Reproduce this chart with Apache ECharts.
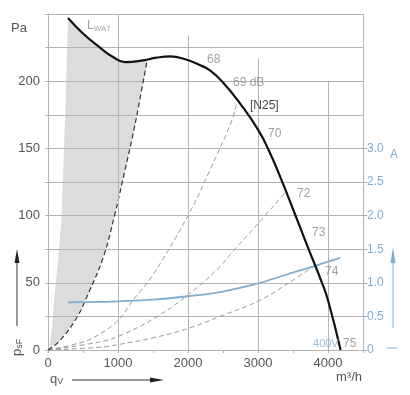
<!DOCTYPE html>
<html><head><meta charset="utf-8">
<script src="https://cdn.jsdelivr.net/npm/echarts@6/dist/echarts.min.js"></script>
<style>html,body{margin:0;padding:0;background:#fff}#c{width:410px;height:395px}</style>
</head><body><div id="c"></div>
<script>
// ---- data ----
const xTicks = [0, 1000, 2000, 3000, 4000];
const xMinorTicks = [0, 500, 1000, 1500, 2000, 2500, 3000, 3500, 4000, 4500];
const yTicks = [0, 50, 100, 150, 200];
const yMinorTicks = [0, 25, 50, 75, 100, 125, 150, 175, 200, 225, 250];
const ampTicks = [0, 0.5, 1.0, 1.5, 2.0, 2.5, 3.0];
// fan curve N25 (qV m3/h, psF Pa)
const fanCurve = [[286,247],[500,235.5],[743,225],[929,218],[1100,214.2],[1362,215.5],[1550,217.5],[1743,218.4],[1981,216],[2150,212.5],[2314,208],[2500,199],[2750,183],[3000,164],[3150,149],[3300,131],[3529,101],[3700,78],[3914,50],[4000,37],[4180,0]];
// boundary of the grey (not permitted) zone
const zoneLeft = [[20,0],[57,17],[86,37],[157,74],[195,100],[243,171],[286,247]];
const zoneDashed = [[0,0],[171,7],[410,24],[576,42],[790,69],[950,100],[1100,134],[1200,157],[1300,183],[1414,215]];
// system curves (grey dashed)
const sysA = [[0,0],[500,6],[743,12],[1000,22],[1214,37],[1500,56],[2000,100],[2314,134],[2629,171],[2690,183]];
const sysB = [[0,0],[743,6],[1000,10],[1500,23],[2000,41],[2457,62],[2600,71],[3000,94],[3386,117]];
const sysC = [[0,0],[743,2],[1000,4],[1500,9],[2000,16],[2457,25],[3029,37],[3500,52],[3843,64]];
// current (A)
const current = [[286,0.71],[700,0.715],[1000,0.725],[1500,0.75],[2000,0.80],[2500,0.87],[3000,0.99],[3400,1.12],[3843,1.26],[4170,1.37]];
// vertical grid line heights (Pa)
const gridX = [1000, 2000, 3000, 4000];
const gridTop = [250, 234, 217, 200];
// annotations
const annotText = ['68','69 dB','[N25]','70','72','73','74','75','400V','L{sub|WA7}'];
const annotQ    = [2271, 2643, 2886, 3143, 3557, 3771, 3957, 4214, 3786, 557];
const annotP    = [216, 199, 182, 161, 116.6, 87, 58, 4.5, 4.5, 241.5];
const annotKind = ['g','g','k','g','g','g','g','g','b','g'];

const GRID = '#b4b4b4', TXT = '#555', LBL = '#8a8a8a', BLUE = '#7eadd0', FONT = 'Liberation Sans';

const chart = echarts.init(document.getElementById('c'), null, {renderer:'canvas'});

// grey zone polygon from boundaries
const zoneTop = fanCurve.filter(p => p[0] <= 1414);
const zonePoly = zoneLeft.concat(zoneTop).concat(zoneDashed.slice().reverse());

const colorOf = k => k === 'k' ? '#111' : (k === 'b' ? BLUE : LBL);
const sizeOf = k => k === 'b' ? 11 : 12;

const option = {
  animation: false,
  textStyle: {fontFamily: FONT},
  grid: {left: 48, top: 14, right: 47, bottom: 45, containLabel: false},
  xAxis: {
    type: 'value', min: 0, max: 4500, interval: 500,
    axisLine: {show: true, lineStyle: {color: GRID}},
    axisTick: {show: true, length: 3, lineStyle: {color: GRID}, customValues: xMinorTicks},
    axisLabel: {customValues: xTicks, color: TXT, fontSize: 13, margin: 7, fontFamily: FONT,
      formatter: v => String(v)},
    splitLine: {show: false}
  },
  yAxis: [{
    type: 'value', min: 0, max: 250, interval: 50,
    axisLine: {show: true, lineStyle: {color: GRID}},
    axisTick: {show: true, length: 3, lineStyle: {color: GRID}, customValues: yMinorTicks},
    axisLabel: {customValues: yTicks, color: TXT, fontSize: 13, margin: 8, fontFamily: FONT,
      formatter: v => String(v)},
    splitLine: {show: true, lineStyle: {color: GRID, width: 1}}
  }, {
    type: 'value', min: 0, max: 5, interval: 0.5, position: 'right',
    axisLine: {show: true, lineStyle: {color: GRID}},
    axisTick: {show: true, length: 4, lineStyle: {color: BLUE}, customValues: ampTicks},
    axisLabel: {customValues: ampTicks, color: BLUE, fontSize: 12, margin: 4, fontFamily: FONT,
      formatter: v => v === 0 ? '0' : v.toFixed(1)},
    splitLine: {show: false}
  }],
  series: [
    {
      type: 'custom', z: -1, silent: true,
      data: [[0, 0]],
      renderItem: (params, api) => ({
        type: 'polygon',
        shape: {points: zonePoly.map(p => api.coord(p))},
        style: {fill: '#dcdcdc', stroke: null}
      })
    },
    {
      type: 'line', data: [], silent: true,
      markLine: {
        silent: true, symbol: 'none', animation: false,
        label: {show: false},
        lineStyle: {color: GRID, width: 1, type: 'solid'},
        data: gridX.map((x, i) => [{coord: [x, 0]}, {coord: [x, gridTop[i]]}])
      }
    },
    {type: 'line', data: sysA, smooth: 0.4, symbol: 'none', silent: true,
     lineStyle: {color: '#9a9a9a', width: 1, type: [5, 3]}},
    {type: 'line', data: sysB, smooth: 0.4, symbol: 'none', silent: true,
     lineStyle: {color: '#9a9a9a', width: 1, type: [5, 3]}},
    {type: 'line', data: sysC, smooth: 0.4, symbol: 'none', silent: true,
     lineStyle: {color: '#9a9a9a', width: 1, type: [5, 3]}},
    {type: 'line', data: zoneDashed, smooth: 0.4, symbol: 'none', silent: true,
     lineStyle: {color: '#333', width: 1.2, type: [5, 3]}},
    {type: 'line', data: current, yAxisIndex: 1, smooth: 0.4, symbol: 'none', silent: true,
     lineStyle: {color: BLUE, width: 1.8}},
    {type: 'line', data: fanCurve, smooth: 0.5, symbol: 'none', silent: true, z: 5,
     lineStyle: {color: '#111', width: 2.2}},
    {
      type: 'scatter', symbolSize: 0, silent: true, z: 6,
      data: annotText.map((t, i) => ({
        value: [annotQ[i], annotP[i]],
        label: {
          show: true, formatter: t, position: [0, 0], align: 'left', verticalAlign: 'middle',
          color: colorOf(annotKind[i]), fontSize: sizeOf(annotKind[i]), fontFamily: FONT,
          rich: {sub: {fontSize: 8, color: LBL, verticalAlign: 'bottom', padding: [6, 0, 0, 0], fontFamily: FONT}}
        }
      }))
    }
  ],
  graphic: [
    {type: 'text', left: 11, top: 22, style: {text: 'Pa', fill: TXT, font: '13px "Liberation Sans"'}},
    {type: 'text', x: 336, y: 371, style: {text: 'm³/h', fill: TXT, font: '13px "Liberation Sans"'}},
    {type: 'text', x: 50, y: 372, style: {text: 'q{s|V}', fill: TXT, font: '13px "Liberation Sans"',
      rich: {s: {fontSize: 9, fill: TXT, padding: [5, 0, 0, 0]}}}},
    {type: 'text', x: 10, y: 356, rotation: Math.PI / 2,
      style: {text: 'p{s|sF}', fill: TXT, font: '13px "Liberation Sans"',
      rich: {s: {fontSize: 9, fill: TXT, padding: [5, 0, 0, 0]}}}},
    {type: 'line', shape: {x1: 17, y1: 326, x2: 17, y2: 262}, style: {stroke: '#333', lineWidth: 1}},
    {type: 'polygon', shape: {points: [[14.5, 263], [19.5, 263], [17, 249]]}, style: {fill: '#222'}},
    {type: 'line', shape: {x1: 72, y1: 380, x2: 152, y2: 380}, style: {stroke: '#333', lineWidth: 1}},
    {type: 'polygon', shape: {points: [[150, 377.5], [150, 382.5], [164, 380]]}, style: {fill: '#222'}},
    {type: 'text', x: 390, y: 149, style: {text: 'A', fill: BLUE, font: '12px "Liberation Sans"'}},
    {type: 'line', shape: {x1: 393, y1: 328, x2: 393, y2: 262}, style: {stroke: BLUE, lineWidth: 1}},
    {type: 'polygon', shape: {points: [[390.5, 263], [395.5, 263], [393, 247]]}, style: {fill: BLUE}},
    {type: 'line', shape: {x1: 387, y1: 348, x2: 397, y2: 348}, style: {stroke: BLUE, lineWidth: 1}}
  ]
};
chart.setOption(option);
</script>
</body></html>
